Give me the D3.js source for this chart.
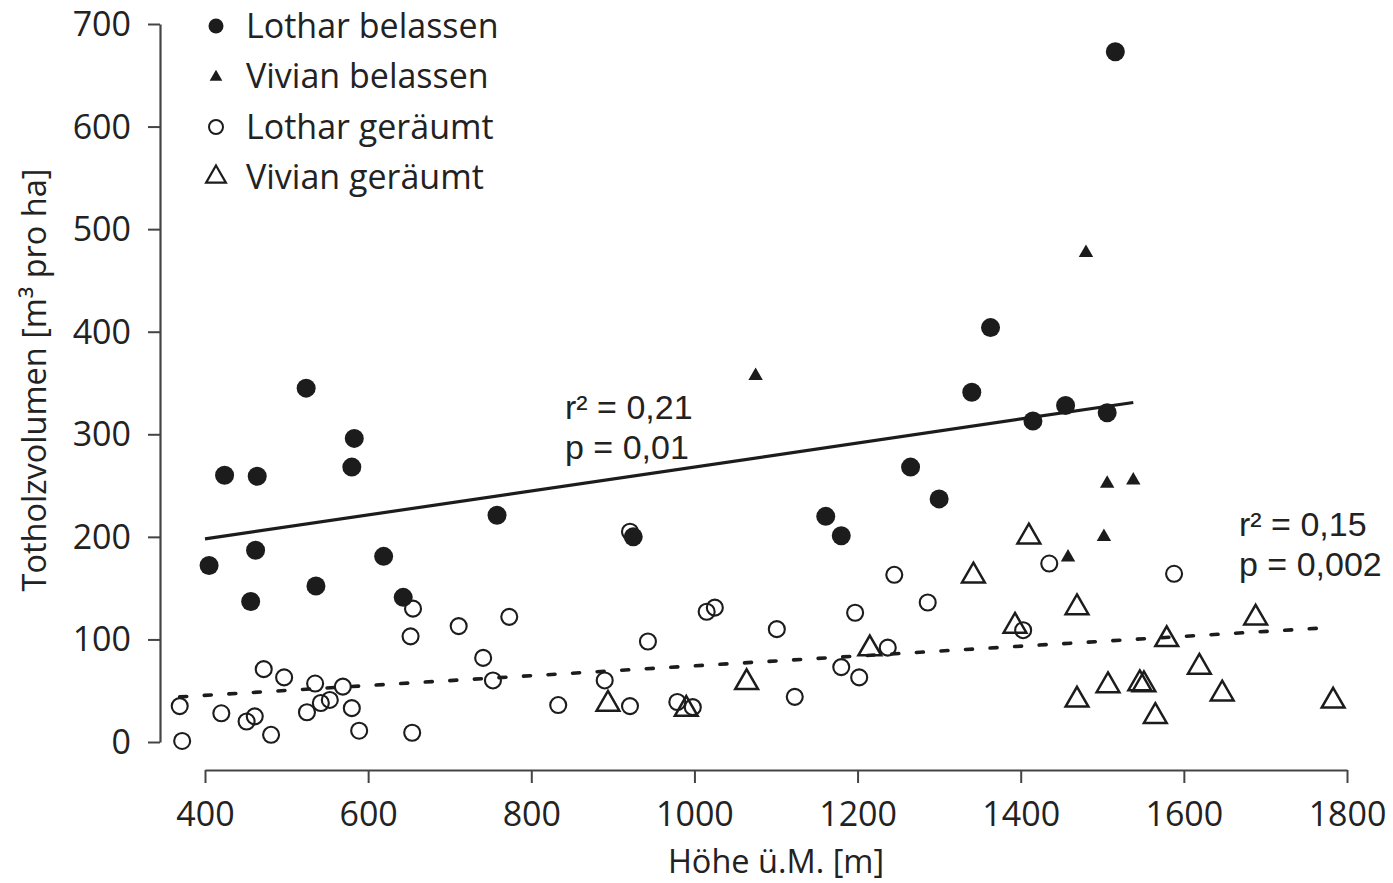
<!DOCTYPE html>
<html><head><meta charset="utf-8">
<script src="https://cdn.jsdelivr.net/npm/d3@7"></script>
<style>
html,body{margin:0;padding:0;background:#fff;}
svg text{font-family:"Open Sans","Noto Sans",sans-serif;fill:#222;}
svg text.stat{font-family:"Liberation Sans",Arial,sans-serif;}
</style></head>
<body><svg id="c" width="1393" height="883"></svg>
<script>
// Data (Höhe ü.M. [m], Totholzvolumen [m3 pro ha])
const lotharBelassen = [[405,172],[424,260],[464,259],[462,187],[456,137],[524,345],[536,152],[583,296],[580,268],[619,181],[643,141],[758,221],[925,200],[1161,220],[1180,201],[1265,268],[1300,237],[1340,341],[1363,404],[1415,313],[1455,328],[1506,321],[1516,673]];
const vivianBelassen = [[1075,357],[1480,477],[1506,252],[1538,255],[1502,200],[1458,180]];
const lotharGeraeumt = [[369,35],[372,1],[420,28],[451,20],[461,25],[472,71],[481,7],[497,63],[525,29],[535,57],[542,38],[553,41],[569,54],[580,33],[589,11],[652,103],[654,9],[655,130],[711,113],[741,82],[753,60],[773,122],[833,36],[890,60],[921,35],[921,205],[943,98],[979,39],[998,34],[1015,127],[1025,131],[1101,110],[1123,44],[1180,73],[1197,126],[1202,63],[1237,92],[1245,163],[1286,136],[1403,109],[1435,174],[1588,164]];
const vivianGeraeumt = [[894,36],[990,31],[1064,57],[1215,90],[1342,161],[1393,112],[1410,199],[1469,130],[1469,40],[1507,54],[1546,56],[1551,55],[1565,24],[1579,99],[1619,72],[1647,46],[1688,120],[1783,39]];
const fitBelassen = [[400,198],[1538,331]];
const fitGeraeumt = [[369,44],[1767,111]];
const xTicks = [400,600,800,1000,1200,1400,1600,1800];
const yTicks = [0,100,200,300,400,500,600,700];
const legendLabels = ["Lothar belassen","Vivian belassen","Lothar geräumt","Vivian geräumt"];
const statsBelassen = ["r² = 0,21","p = 0,01"];
const statsGeraeumt = ["r² = 0,15","p = 0,002"];

const svg = d3.select("#c");
const x = d3.scaleLinear().domain([400,1800]).range([205,1347]);
const y = d3.scaleLinear().domain([0,700]).range([742,24]);
const ink = "#1c1c1c";
const FS = 34;

// axes
const xa = svg.append("g").attr("transform","translate(0,770)")
  .call(d3.axisBottom(x).tickValues(xTicks).tickSize(13).tickSizeOuter(0).tickPadding(19).tickFormat(d3.format("d")));
const ya = svg.append("g").attr("transform","translate(160,0)")
  .call(d3.axisLeft(y).tickValues(yTicks).tickSize(12).tickSizeOuter(0).tickPadding(17).tickFormat(d3.format("d")));
[xa,ya].forEach(g=>{
  g.selectAll("path.domain").attr("stroke","#444").attr("stroke-width",2.2);
  g.selectAll(".tick line").attr("stroke","#444").attr("stroke-width",2);
  g.selectAll(".tick text").attr("font-size",FS).attr("fill","#222")
   .style("font-family",'"Open Sans","Noto Sans",sans-serif');
});
xa.selectAll(".tick text").attr("dy","0.71em");
ya.selectAll(".tick text").attr("dy","0.34em");

// axis titles
svg.append("text").attr("x",776).attr("y",873).attr("text-anchor","middle").attr("font-size",32.5).text("Höhe ü.M. [m]");
svg.append("text").attr("transform","translate(46,380) rotate(-90)").attr("text-anchor","middle").attr("font-size",32.5)
  .text("Totholzvolumen [m³ pro ha]");

// regression lines
const line = d3.line().x(d=>x(d[0])).y(d=>y(d[1]));
svg.append("path").datum(fitBelassen).attr("d",line).attr("stroke",ink).attr("stroke-width",3.2).attr("fill","none");
svg.append("path").datum(fitGeraeumt).attr("d",line).attr("stroke",ink).attr("stroke-width",3.6).attr("fill","none")
  .attr("stroke-dasharray","7 17.6").attr("stroke-linecap","round");

// points
const tri = (s)=>d3.symbol().type(d3.symbolTriangle).size(s)();
svg.append("g").selectAll("circle").data(lotharGeraeumt).join("circle")
  .attr("cx",d=>x(d[0])).attr("cy",d=>y(d[1])).attr("r",8)
  .attr("fill","none").attr("stroke",ink).attr("stroke-width",2.1);
svg.append("g").selectAll("path").data(vivianGeraeumt).join("path")
  .attr("d",tri(225)).attr("transform",d=>`translate(${x(d[0])},${y(d[1])-1})`)
  .attr("fill","none").attr("stroke",ink).attr("stroke-width",2.5).attr("stroke-linejoin","miter");
svg.append("g").selectAll("circle").data(lotharBelassen).join("circle")
  .attr("cx",d=>x(d[0])).attr("cy",d=>y(d[1])).attr("r",9.5).attr("fill",ink);
svg.append("g").selectAll("path").data(vivianBelassen).join("path")
  .attr("d",tri(90)).attr("transform",d=>`translate(${x(d[0])},${y(d[1])})`).attr("fill",ink);

// annotations
function statBlock(px, py, lines){
  lines.forEach((s,i)=>svg.append("text").attr("class","stat").attr("x",px).attr("y",py + i*40)
    .attr("font-size",FS).text(s));
}
statBlock(565,419,statsBelassen);
statBlock(1239,536,statsGeraeumt);

// legend
const lg = svg.append("g");
const rows = [26,76,127,177];
legendLabels.forEach((t,i)=>{
  const cy = rows[i], cx = 216;
  if(i===0) lg.append("circle").attr("cx",cx).attr("cy",cy).attr("r",7.5).attr("fill",ink);
  if(i===1) lg.append("path").attr("d",tri(70)).attr("transform",`translate(${cx},${cy+1})`).attr("fill",ink);
  if(i===2) lg.append("circle").attr("cx",cx).attr("cy",cy).attr("r",7).attr("fill","none").attr("stroke",ink).attr("stroke-width",2);
  if(i===3) lg.append("path").attr("d",tri(170)).attr("transform",`translate(${cx},${cy})`).attr("fill","none").attr("stroke",ink).attr("stroke-width",2.2);
  lg.append("text").attr("x",246).attr("y",cy).attr("dy","0.36em").attr("font-size",FS).text(t);
});
</script></body></html>
